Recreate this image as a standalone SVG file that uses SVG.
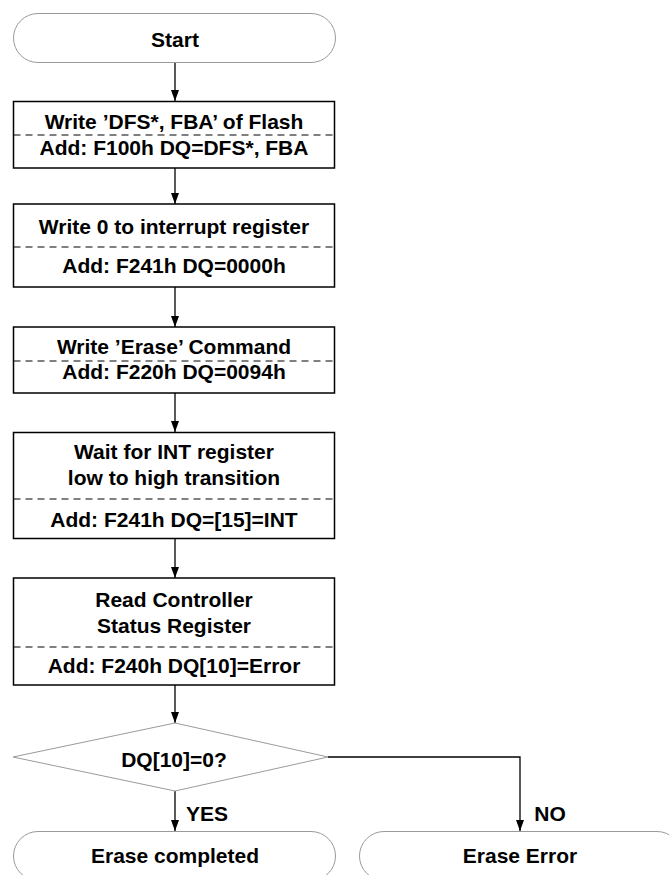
<svg xmlns="http://www.w3.org/2000/svg" width="669" height="875" viewBox="0 0 669 875">
<style>
.t{font-family:"Liberation Sans",Arial,sans-serif;font-weight:bold;font-size:21px;fill:#000;text-anchor:middle}
.term{fill:#fff;stroke:#9a9a9a;stroke-width:1}
.box{fill:#fff;stroke:#000;stroke-width:1.5}
.dash{stroke:#000;stroke-width:1;stroke-dasharray:7,5;fill:none}
.dia{fill:#fff;stroke:#9a9a9a;stroke-width:1}
.c{stroke:#000;stroke-width:1.3;fill:none;marker-end:url(#ah)}
</style>
<defs>
<marker id="ah" markerWidth="11" markerHeight="8" refX="11" refY="4" orient="auto" markerUnits="userSpaceOnUse" viewBox="0 0 11 8">
<path d="M0,0 L11,4 L0,8 Z" fill="#000"/>
</marker>
</defs>
<rect width="669" height="875" fill="#fff"/>
<g id="connectors">
<line class="c" x1="175" y1="62" x2="175" y2="101"/>
<line class="c" x1="175" y1="168" x2="175" y2="204"/>
<line class="c" x1="175" y1="287" x2="175" y2="327"/>
<line class="c" x1="175" y1="393" x2="175" y2="432"/>
<line class="c" x1="175" y1="539" x2="175" y2="578"/>
<line class="c" x1="175" y1="685" x2="175" y2="723"/>
<line class="c" x1="175" y1="791" x2="175" y2="831"/>
<polyline class="c" points="328,757 520,757 520,831"/>
<text class="t" x="207" y="821">YES</text>
<text class="t" x="550" y="821">NO</text>
</g>
<g id="start">
<rect class="term" x="13.5" y="13.5" width="322" height="49" rx="24.5" ry="24.5"/>
<text class="t" x="175" y="47">Start</text>
</g>
<g id="box1">
<rect class="box" x="13.5" y="101.5" width="321" height="66.5"/>
<line class="dash" x1="13.5" y1="135" x2="334.5" y2="135"/>
<text class="t" x="174" y="129">Write ’DFS*, FBA’ of Flash</text>
<text class="t" x="174" y="155">Add: F100h DQ=DFS*, FBA</text>
</g>
<g id="box2">
<rect class="box" x="13.5" y="204" width="321" height="83"/>
<line class="dash" x1="13.5" y1="247" x2="334.5" y2="247"/>
<text class="t" x="174" y="234">Write 0 to interrupt register</text>
<text class="t" x="174" y="273">Add: F241h DQ=0000h</text>
</g>
<g id="box3">
<rect class="box" x="13.5" y="327" width="321" height="66"/>
<line class="dash" x1="13.5" y1="361" x2="334.5" y2="361"/>
<text class="t" x="174" y="354">Write ’Erase’ Command</text>
<text class="t" x="174" y="379">Add: F220h DQ=0094h</text>
</g>
<g id="box4">
<rect class="box" x="13.5" y="432.5" width="321" height="106"/>
<line class="dash" x1="13.5" y1="499" x2="334.5" y2="499"/>
<text class="t" x="174" y="459">Wait for INT register</text>
<text class="t" x="174" y="485">low to high transition</text>
<text class="t" x="174" y="527">Add: F241h DQ=[15]=INT</text>
</g>
<g id="box5">
<rect class="box" x="13.5" y="578" width="321" height="107"/>
<line class="dash" x1="13.5" y1="647" x2="334.5" y2="647"/>
<text class="t" x="174" y="607">Read Controller</text>
<text class="t" x="174" y="633">Status Register</text>
<text class="t" x="174" y="673">Add: F240h DQ[10]=Error</text>
</g>
<g id="decision">
<polygon class="dia" points="175,723 328,757 175,791 13,757"/>
<text class="t" x="174" y="767">DQ[10]=0?</text>
</g>
<g id="done">
<rect class="term" x="13.5" y="831.5" width="322" height="49" rx="24.5" ry="24.5"/>
<text class="t" x="175" y="863">Erase completed</text>
</g>
<g id="error">
<rect class="term" x="359.5" y="831.5" width="322" height="49" rx="24.5" ry="24.5"/>
<text class="t" x="520" y="863">Erase Error</text>
</g>
</svg>
